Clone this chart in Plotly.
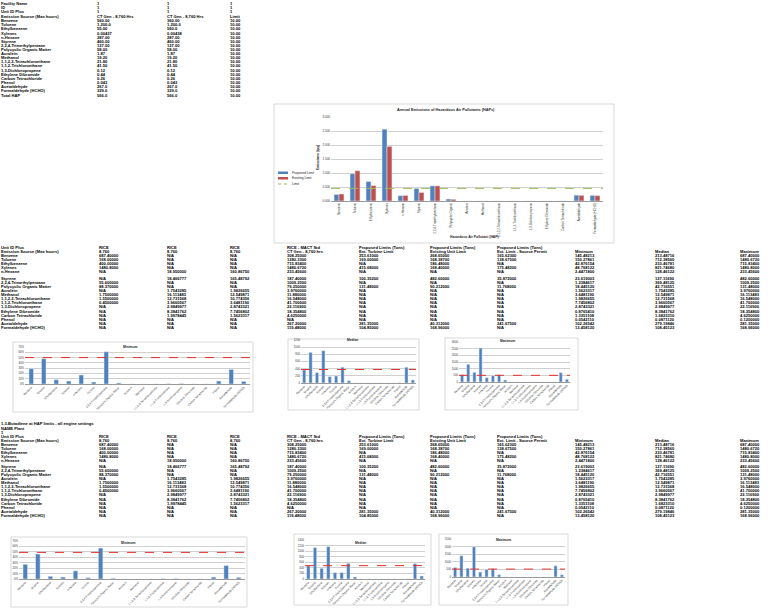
import plotly.graph_objects as go

W, H = 774, 610
FONT = "Liberation Sans"

# ---------------- chart data ----------------
POLLUTANTS = ["Benzene", "Toluene", "Ethylbenzene", "Xylenes", "n-Hexane", "Styrene",
              "2,2,4-Trimethylpentane", "Polycyclic Organic Matter", "Acrolein", "Methanol",
              "1,1,2,2-Tetrachloroethane", "1,1,2-Trichloroethane", "1,3-Dichloropropene",
              "Ethylene Dibromide", "Carbon Tetrachloride", "Phenol", "Acetaldehyde",
              "Formaldehyde (HCHO)"]

MAIN_CATS = ["Benzene", "Toluene", "Ethylbenzene", "Xylenes", "n-Hexane", "Styrene",
             "2,2,4-Trimethylpentane", "Polycyclic Organic", "Acrolein", "Methanol",
             "1,1,2,2-Tetrachloroethane", "1,1,2-Trichloroethane", "1,3-Dichloropropene",
             "Ethylene Dibromide", "Carbon Tetrachloride", "Acetaldehyde", "Formaldehyde (HCHO)"]

PROPOSED_TPY = [0.235, 0.975, 0.695, 2.565, 0.19, 0.45, 0.54, 0.07, 0, 0, 0, 0, 0, 0, 0, 0.21, 0.20]
EXISTING_TPY = [0.25, 1.08, 0.55, 1.95, 0.20, 0.305, 0.54, 0.06, 0, 0, 0, 0, 0, 0, 0, 0.20, 0.19]
THRESHOLD_TPY = 0.45

MIN_SHARE_1 = [0.29, 0.48, 0.08, 0.056, 0.17, 0.037, 0.61, 0.02, 0, 0, 0, 0.005, 0.008, 0, 0, 0.056, 0.275, 0.05]
MEDIAN_1 = [366, 854, 291, 901, 178, 197, 441, 66, 0, 0, 0, 0, 0, 0, 0, 8, 441, 85]
MAXIMUM_1 = [550, 1325, 725, 2550, 325, 475, 550, 150, 0, 0, 0, 0, 0, 0, 0, 0, 700, 200]
MIN_SHARE_2 = [0.27, 0.46, 0.05, 0.036, 0.15, 0.024, 0.57, 0.012, 0, 0, 0, 0.004, 0.006, 0, 0, 0.036, 0.247, 0.03]
MEDIAN_2 = [479, 1126, 383, 1162, 228, 228, 563, 72, 0, 0, 0, 0, 0, 0, 0, 5, 551, 108]
MAXIMUM_2 = [630, 1400, 585, 1980, 325, 500, 545, 150, 0, 0, 0, 0, 0, 0, 0, 0, 740, 150]

LIMIT_SHARE_1, LIMIT_MEDIAN_1, LIMIT_MAX_1 = 0.50, 376, 500
LIMIT_SHARE_2, LIMIT_MEDIAN_2, LIMIT_MAX_2 = 0.49, 480, 520

# ---------------- worksheet text ----------------
T1_LABELS = ["Facility Name", "ID", "Unit ID Plus", "Emission Source (Max hours)"] + POLLUTANTS + ["Total HAP"]
T1_COL1 = ["1", "1", "1", "CT Gen - 8,760 Hrs"] + \
    "560.00 1,200.0 55.00 0.00437 287.00 460.00 127.00 58.00 1.87 19.20 21.80 41.50 0.12 0.44 0.26 0.043 267.0 329.0 566.0".split()
T1_COL2 = ["1", "1", "1", "CT Gen - 8,760 Hrs"] + \
    "360.00 1,200.0 560.0 0.00438 287.00 460.00 127.00 58.00 1.87 19.20 21.80 41.50 0.12 0.44 0.26 0.043 267.0 329.0 566.0".split()
T1_COL3 = ["1", "1", "1", "Limit"] + ["10.00"] * 19

T_HEAD1 = ["Unit ID Plus", "RICE", "RICE", "RICE", "RICE - MACT Std", "Proposed Limits (Tons)",
           "Proposed Limits (Tons)", "Proposed Limits (Tons)", "", "", ""]
T_HEAD2 = ["Emission Source (Max hours)", "8,760", "8,760", "8,760", "CT Gen - 8,760 hrs",
           "Ext. Turbine Limit", "Existing Unit Limit", "Ext. Limit - Source Permit",
           "Minimum", "Median", "Maximum"]
T_VALUES = [
    "687.40000 168.00000 400.00000 1480.8000 N/A N/A 55.600000 88.370000 N/A 1.7500000 1.5500000 0.4500000 N/A N/A N/A N/A N/A N/A",
    "N/A N/A N/A N/A 18.950000 18.466777 N/A N/A 1.7543285 16.113483 12.731568 3.9660567 2.9849977 8.3841762 1.9978445 N/A N/A N/A",
    "N/A N/A N/A N/A 160.86750 165.48792 N/A N/A 1.9826655 12.549871 10.774356 3.6481190 2.8743321 7.7456802 1.5623317 N/A N/A N/A",
    "308.25000 1280.3300 715.83400 1480.6720 233.45600 187.40000 1009.2500 79.250000 3.9760000 11.880000 16.548000 41.700000 22.116900 18.354800 4.6250000 N/A 267.20000 119.48000",
    "253.61000 169.00000 N/A 415.68000 N/A 100.35200 N/A 131.48000 N/A N/A N/A N/A N/A N/A N/A N/A 281.35000 104.85000",
    "268.65000 168.38700 186.48000 168.40000 N/A 482.60000 N/A 90.212000 N/A N/A N/A N/A N/A N/A N/A N/A 40.312000 168.96000",
    "165.62300 138.67500 N/A 175.48200 N/A 35.872000 N/A 11.768000 N/A N/A N/A N/A N/A N/A N/A N/A 241.67500 N/A",
    "145.48213 150.27861 42.876154 48.768122 2.4471800 23.619003 1.2384617 18.445120 1.5623317 3.6481190 1.9826655 7.7456802 2.8743321 0.8765410 1.3351108 0.0542110 102.26542 13.458120",
    "213.48716 712.38560 233.46781 821.74680 128.46122 127.11690 369.48125 42.716551 1.7543285 12.549871 12.731568 3.9660567 2.9849977 8.3841762 1.6823310 0.0871120 279.19846 108.45123",
    "687.40000 1480.6720 715.83400 1480.8000 233.45600 482.60000 1009.2500 131.48000 3.9760000 16.113483 16.548000 41.700000 22.116900 18.354800 4.6250000 0.1200000 281.35000 168.96000",
]
T3_TITLE = ["1,3-Butadiene at HAP limits - all engine settings", "NAME Plant", "1"]

# ---------------- layout helpers ----------------
CELL_FONT = 4.1
T1_X = [4, 100, 170, 233]
T_X = [4, 102, 170, 233, 290, 362, 433, 500, 578, 658, 743]
T1_Y = [4, 7.5, 12, 17, 21, 25, 29, 34, 38, 42, 46, 50, 54, 58, 62, 66, 71, 75, 79, 83, 87, 91, 95.5]
T2_Y = [248, 252] + [256, 260, 264, 268, 272, 279, 283, 287, 291, 295, 299, 303, 307, 312, 316, 320, 324, 328]
T3_TY = [424, 429, 433]
T3_Y = [437, 441] + [445, 449, 453, 457, 461, 467, 471, 475, 479, 483, 487, 491, 495, 500, 504, 508, 512, 516]

fig = go.Figure()
layout = dict(width=W, height=H, margin=dict(l=0, r=0, t=0, b=0),
              paper_bgcolor="white", plot_bgcolor="rgba(0,0,0,0)",
              showlegend=False, barmode="overlay", font=dict(family=FONT, color="#222"))
shapes, annotations = [], []


def ax(i, kind):
    return f"{kind}axis" if i == 1 else f"{kind}axis{i}"


def ref(i, kind):
    return kind if i == 1 else f"{kind}{i}"


def setup_chart(i, x0, x1, top, base, yrange, dtick, fmt, cats, angle, tfs):
    layout[ax(i, "x")] = dict(domain=[x0 / W, x1 / W], anchor=ref(i, "y"), type="category",
                              categoryorder="array", categoryarray=cats,
                              range=[-0.5, len(cats) - 0.5], tickangle=angle,
                              tickfont=dict(size=tfs, color="#333"), showgrid=False,
                              showline=True, linecolor="#9a9a9a", linewidth=0.6,
                              ticks="", automargin=False, fixedrange=True)
    layout[ax(i, "y")] = dict(domain=[1 - base / H, 1 - top / H], anchor=ref(i, "x"),
                              range=yrange, dtick=dtick, tickformat=fmt,
                              tickfont=dict(size=tfs, color="#333"), showgrid=True,
                              gridcolor="#d0d0d0", gridwidth=0.6, zeroline=False,
                              showline=False, ticks="", automargin=False, fixedrange=True)


def box(x0, y0, x1, y1):
    shapes.append(dict(type="rect", xref="paper", yref="paper", layer="below",
                       x0=x0 / W, x1=x1 / W, y0=1 - y1 / H, y1=1 - y0 / H,
                       line=dict(color="#cfcfcf", width=0.8), fillcolor="white"))


def limit_line(i, value, color):
    shapes.append(dict(type="line", xref=f"{ref(i, 'x')} domain", yref=ref(i, "y"),
                       x0=0, x1=1, y0=value, y1=value,
                       line=dict(color=color, width=1, dash="dash")))


def note(x, y, text, size, angle=0, xanchor="center", color="#222"):
    annotations.append(dict(x=x / W, y=1 - y / H, xref="paper", yref="paper", text=text,
                            showarrow=False, textangle=angle, xanchor=xanchor,
                            yanchor="middle", font=dict(size=size, color=color, family=FONT)))


# ---- main chart ----
box(274, 104, 614, 243)
setup_chart(1, 331, 603, 117, 201, [0, 3.0], 0.5, ".3f", MAIN_CATS, -90, 3.0)
fig.add_trace(go.Bar(x=MAIN_CATS, y=PROPOSED_TPY, marker_color="#4F81BD", width=0.31,
                     offset=-0.31, xaxis="x", yaxis="y", name="Proposed Limit"))
fig.add_trace(go.Bar(x=MAIN_CATS, y=EXISTING_TPY, marker_color="#C0504D", width=0.31,
                     offset=0.0, xaxis="x", yaxis="y", name="Existing Limit"))
limit_line(1, THRESHOLD_TPY, "#9BBB59")
note(446, 110.5, "<b>Annual Emissions of Hazardous Air Pollutants (HAPs)</b>", 3.8)
note(318, 158, "<b>Emissions (tpy)</b>", 3.4, angle=-90)
note(474, 236.5, "<b>Hazardous Air Pollutant (HAP)</b>", 3.4)
# legend
shapes.append(dict(type="rect", xref="paper", yref="paper", x0=278 / W, x1=288 / W,
                   y0=1 - 174 / H, y1=1 - 171.5 / H, fillcolor="#4F81BD", line=dict(width=0)))
shapes.append(dict(type="rect", xref="paper", yref="paper", x0=278 / W, x1=288 / W,
                   y0=1 - 179.5 / H, y1=1 - 177 / H, fillcolor="#C0504D", line=dict(width=0)))
shapes.append(dict(type="line", xref="paper", yref="paper", x0=278 / W, x1=288 / W,
                   y0=1 - 184 / H, y1=1 - 184 / H, line=dict(color="#9BBB59", width=1, dash="dot")))
note(290, 172.8, "Proposed Limit", 3.3, xanchor="left")
note(290, 178.3, "Existing Limit", 3.3, xanchor="left")
note(290, 184, "Limit", 3.3, xanchor="left")

# ---- small charts ----
small = [
    # idx, box, plot x0, x1, top, base, range, dtick, fmt, data, limit, title, title pos, bar width
    (2, (13, 342, 253, 412), 25, 250, 347, 384, [0, 0.7], 0.1, ".0%", MIN_SHARE_1, LIMIT_SHARE_1, "Minimum", (130, 347), 0.36),
    (3, (288, 339, 419, 410), 301, 416, 340, 383, [0, 1200], 200, "d", MEDIAN_1, LIMIT_MEDIAN_1, "Median", (352, 340), 0.5),
    (4, (445, 338, 578, 410), 459, 570, 342, 382, [0, 3000], 500, "d", MAXIMUM_1, LIMIT_MAX_1, "Maximum", (507, 341), 0.5),
    (5, (11, 537, 247, 607), 19, 245, 541, 579, [0, 0.7], 0.1, ".0%", MIN_SHARE_2, LIMIT_SHARE_2, "Minimum", (128, 543), 0.36),
    (6, (294, 534, 431, 605), 305, 425, 540, 579, [0, 1400], 200, "d", MEDIAN_2, LIMIT_MEDIAN_2, "Median", (360, 543), 0.5),
    (7, (439, 534, 568, 605), 452, 565, 539, 577, [0, 2500], 500, "d", MAXIMUM_2, LIMIT_MAX_2, "Maximum", (503, 540), 0.5),
]
for i, b, x0, x1, top, base, yr, dt, fmt, vals, lim, title, tpos, bw in small:
    box(*b)
    setup_chart(i, x0, x1, top, base, yr, dt, fmt, POLLUTANTS, -45, 2.8)
    fig.add_trace(go.Bar(x=POLLUTANTS, y=vals, marker_color="#4F81BD", width=bw,
                         xaxis=ref(i, "x"), yaxis=ref(i, "y"), name=title))
    limit_line(i, lim, "#E8312B")
    note(tpos[0], tpos[1], f"<b>{title}</b>", 3.3)

# ---- worksheet cells (full-page overlay axis) ----
layout["xaxis8"] = dict(domain=[0, 1], range=[0, W], visible=False, fixedrange=True)
layout["yaxis8"] = dict(domain=[0, 1], range=[H, 0], visible=False, fixedrange=True, anchor="x8")


def cells(x, ys, texts):
    pairs = [(y, t) for y, t in zip(ys, texts) if t]
    fig.add_trace(go.Scatter(x=[x] * len(pairs), y=[p[0] for p in pairs],
                             text=[p[1] for p in pairs], mode="text",
                             textposition="middle right", cliponaxis=False,
                             textfont=dict(size=CELL_FONT, color="#000", family=FONT, weight="bold"),
                             hoverinfo="skip", xaxis="x8", yaxis="y8"))


# block 1
for x, col in zip(T1_X, [T1_LABELS, T1_COL1, T1_COL2, T1_COL3]):
    cells(x - 3, T1_Y, col)

# blocks 2 and 3
value_cols = [v.split() for v in T_VALUES]
table_cols = [[T_HEAD1[0], T_HEAD2[0]] + POLLUTANTS] + \
    [[T_HEAD1[k + 1], T_HEAD2[k + 1]] + value_cols[k] for k in range(len(value_cols))]
for ys in (T2_Y, T3_Y):
    for x, col in zip(T_X, table_cols):
        cells(x - 3, ys, col)
cells(1, T3_TY, T3_TITLE)

layout["shapes"] = shapes
layout["annotations"] = annotations
fig.update_layout(**layout)
fig.write_html("out.html")
